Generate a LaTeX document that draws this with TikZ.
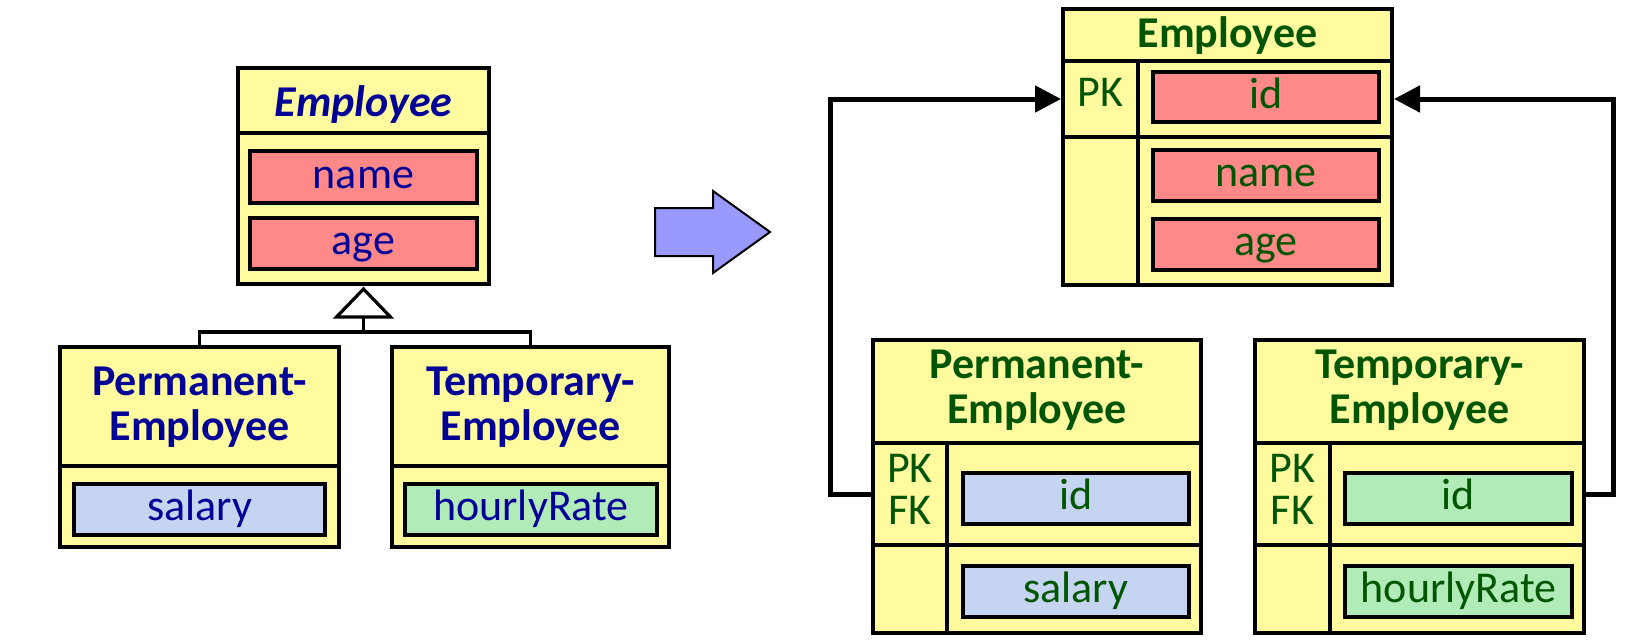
\documentclass[tikz,border=0pt]{standalone}
\usepackage{fontspec}
\setmainfont{Carlito}
\usetikzlibrary{fit,arrows.meta}
\definecolor{boxyellow}{RGB}{255,251,158}
\definecolor{attrred}{RGB}{255,136,136}
\definecolor{attrblue}{RGB}{197,212,240}
\definecolor{attrgreen}{RGB}{176,235,184}
\definecolor{umlblue}{RGB}{0,0,150}
\definecolor{dbgreen}{RGB}{0,85,0}
\definecolor{arrowfill}{RGB}{153,153,255}
\begin{document}
\begin{tikzpicture}[x=0.5pt,y=-0.5pt,
  cell/.style={draw=black, line width=2pt, fill=boxyellow, inner sep=0pt},
  attr/.style={draw=black, line width=2pt, inner sep=0pt, text height=15.5pt, text depth=4.5pt,
               minimum height=25.5pt, font=\fontsize{22}{22.5}\selectfont},
  head/.style={font=\bfseries\fontsize{22}{22.5}\selectfont, align=center, anchor=base, inner sep=0pt},
  keys/.style={font=\fontsize{22}{21}\selectfont, align=center, anchor=base, inner sep=0pt},
  sepline/.style={draw=black, line width=2pt},
  inh/.style={draw=black, line width=1.6pt},
  fk/.style={draw=black, line width=2.5pt, -{Triangle[length=13pt,width=13pt]}},
  uml/.style={text=umlblue},
  db/.style={text=dbgreen}
]
\useasboundingbox (0,0) rectangle (1650,643);

% ---------- UML class diagram ----------
\node[cell, fit={(238,68) (489,284)}] (cEmp) {};
\draw[sepline] (cEmp.west |- 0,133) -- (cEmp.east |- 0,133);
\node[head, uml] (cEmpTitle) at (363.5,116) {\itshape Employee};
\node[attr, fill=attrred, minimum width=113.5pt, minimum height=26pt, uml] (cName) at (363.5,177) {name};
\node[attr, fill=attrred, minimum width=113.5pt, uml] (cAge) at (363.5,243.5) {age};

\node[cell, fit={(60,347) (339,547)}] (cPerm) {};
\draw[sepline] (cPerm.west |- 0,466) -- (cPerm.east |- 0,466);
\node[head, uml] (cPermTitle) at (199.5,440) {Permanent-\\Employee};
\node[attr, fill=attrblue, minimum width=125.5pt, uml] (cSalary) at (199.5,509.5) {salary};

\node[cell, fit={(392,347) (669,547)}] (cTemp) {};
\draw[sepline] (cTemp.west |- 0,466) -- (cTemp.east |- 0,466);
\node[head, uml] (cTempTitle) at (530.5,440) {Temporary-\\Employee};
\node[attr, fill=attrgreen, minimum width=126pt, uml] (cRate) at (531,509.5) {hourlyRate};

% generalisation
\coordinate (triTip) at ([yshift=-1.5pt]cEmp.south);
\coordinate (triBase) at ([yshift=-15.5pt]cEmp.south);
\draw[inh, fill=white] (triTip) -- ++(-27,28) -- ++(54,0) -- cycle;
\draw[inh] (triBase) -- ++(0,15) -| (cPerm.north);
\draw[inh] (triBase) ++(0,15) -| (cTemp.north);

% mapping arrow
\draw[line width=1pt, fill=arrowfill, line join=miter]
  (655,208) -- (713,208) -- (713,191) -- (770,232) -- (713,273) -- (713,256) -- (655,256) -- cycle;

% ---------- relational tables ----------
% Employee
\node[cell, fit={(1063,9) (1392,61)}] (eTitle) {};
\node[cell, fit={(1063,61) (1138,137)}] (ePK) {};
\node[cell, fit={(1138,61) (1392,137)}] (eRow1) {};
\node[cell, fit={(1063,137) (1138,285)}] (eKey2) {};
\node[cell, fit={(1138,137) (1392,285)}] (eRow2) {};
\node[head, db] (eName) at (1227.5,47) {Employee};
\node[keys, db] (eKeys) at (1100.5,106) {PK};
\node[attr, fill=attrred, minimum width=113pt, minimum height=25pt, db] (eId) at (1266,97) {id};
\node[attr, fill=attrred, minimum width=113pt, db] (eNm) at (1266,175.5) {name};
\node[attr, fill=attrred, minimum width=113pt, db] (eAg) at (1266,244.5) {age};

% PermanentEmployee
\node[cell, fit={(873,340) (1201,443)}] (pTitle) {};
\node[cell, fit={(873,443) (947,545)}] (pKey1) {};
\node[cell, fit={(947,443) (1201,545)}] (pRow1) {};
\node[cell, fit={(873,545) (947,633)}] (pKey2) {};
\node[cell, fit={(947,545) (1201,633)}] (pRow2) {};
\node[head, db] (pName) at (1037,423) {Permanent-\\Employee};
\node[keys, db] (pKeys) at (910,524) {PK\\FK};
\node[attr, fill=attrblue, minimum width=113pt, db] (pId) at (1076,498.5) {id};
\node[attr, fill=attrblue, minimum width=113pt, db] (pSal) at (1076,591.5) {salary};

% TemporaryEmployee
\node[cell, fit={(1255,340) (1584,443)}] (tTitle) {};
\node[cell, fit={(1255,443) (1330,545)}] (tKey1) {};
\node[cell, fit={(1330,443) (1584,545)}] (tRow1) {};
\node[cell, fit={(1255,545) (1330,633)}] (tKey2) {};
\node[cell, fit={(1330,545) (1584,633)}] (tRow2) {};
\node[head, db] (tName) at (1419.5,423) {Temporary-\\Employee};
\node[keys, db] (tKeys) at (1292.5,524) {PK\\FK};
\node[attr, fill=attrgreen, minimum width=113.5pt, db] (tId) at (1458.5,498.5) {id};
\node[attr, fill=attrgreen, minimum width=113.5pt, db] (tRate) at (1458.5,591.5) {hourlyRate};

% foreign keys
\draw[fk] (pKey1.west) -- ++(-41,0) |- (ePK.west);
\draw[fk] (tRow1.east) -- ++(27,0) |- (eRow1.east);
\end{tikzpicture}
\end{document}
